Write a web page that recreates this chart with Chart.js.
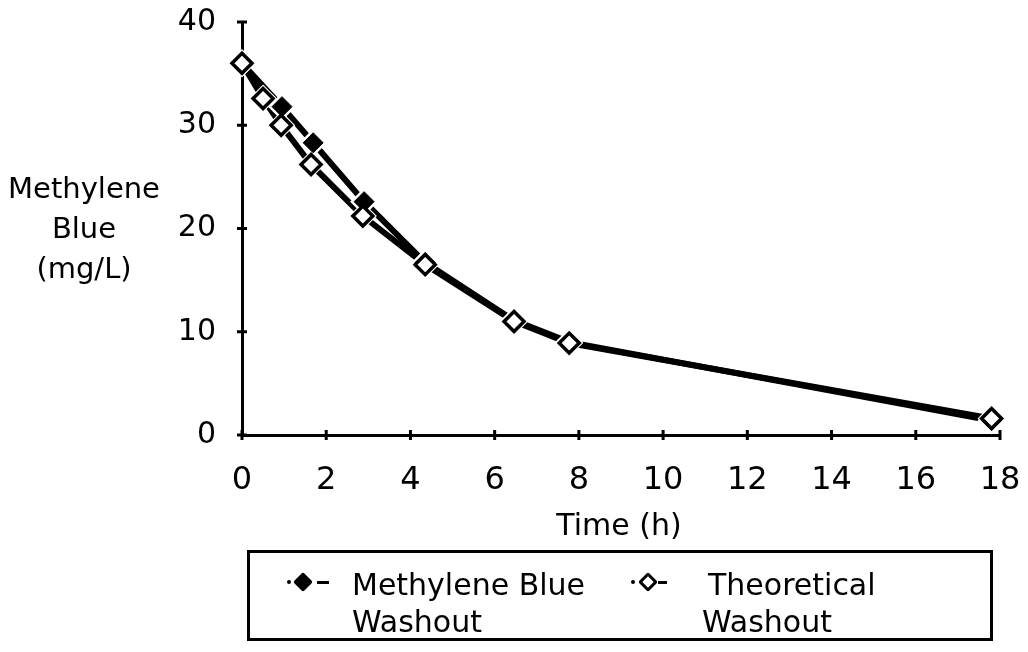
<!DOCTYPE html>
<html>
<head>
<meta charset="utf-8">
<script src="https://cdn.jsdelivr.net/npm/chart.js@4.4.1/dist/chart.umd.min.js"></script>
<style>
    body { margin: 0; background: #fff; }
    #contenedor { position: relative; width: 1028px; height: 652px; font-family: 'DejaVu Sans', sans-serif; color: #000; }
    #grafico { position: absolute; left: 0; top: 0; }
    .texto { position: absolute; white-space: nowrap; line-height: 1; }
    #tituloY { position: absolute; left: 0; top: 168px; width: 168px; text-align: center; font-size: 29px; line-height: 40px; }
    #tituloX { position: absolute; left: 519px; width: 200px; top: 510px; text-align: center; font-size: 30px; line-height: 1; }
    #leyenda { position: absolute; left: 247px; top: 550px; width: 740px; height: 85px; border: 3px solid #000; }
    .punto { position: absolute; width: 4px; height: 4px; background: #000; border-radius: 2px; }
    .guion { position: absolute; height: 3px; background: #000; }
    .rombo { position: absolute; transform: rotate(45deg); box-sizing: border-box; border-radius: 2px; }
</style>
</head>
<body>
<div id="contenedor">
    <canvas id="grafico" width="1028" height="652"></canvas>

    <div id="tituloY">Methylene<br>Blue<br>(mg/L)</div>
    <div id="tituloX">Time (h)</div>

    <div id="leyenda"></div>
    <!-- simbolos de la leyenda -->
    <div class="punto" style="left:287px; top:580px;"></div>
    <div class="rombo" style="left:296px; top:575px; width:14px; height:14px; background:#000;"></div>
    <div class="guion" style="left:317px; top:581px; width:12px;"></div>
    <div class="texto" style="left:352px; top:570px; font-size:30px;">Methylene Blue</div>
    <div class="texto" style="left:352px; top:607px; font-size:30px;">Washout</div>

    <div class="punto" style="left:631px; top:580px;"></div>
    <div class="rombo" style="left:641px; top:575px; width:14px; height:14px; background:#fff; border:3px solid #000;"></div>
    <div class="guion" style="left:658px; top:581px; width:9px;"></div>
    <div class="texto" style="left:708px; top:570px; font-size:30px;">Theoretical</div>
    <div class="texto" style="left:702px; top:607px; font-size:30px;">Washout</div>
</div>

<script>
// DATOS
const tiempoAzul = [0, 0.95, 1.69, 2.9, 4.35, 6.46, 7.77, 17.8];
const valoresAzul = [36.0, 31.8, 28.3, 22.6, 16.7, 11.1, 9.0, 1.4];
const tiempoTeorico = [0, 0.5, 0.93, 1.64, 2.87, 4.35, 6.46, 7.77, 17.8];
const valoresTeorico = [36.0, 32.6, 30.0, 26.2, 21.2, 16.5, 11.0, 8.9, 1.6];
const ticksX = [0, 2, 4, 6, 8, 10, 12, 14, 16, 18];
const ticksY = [0, 10, 20, 30, 40];

function puntos(xs, ys) {
    return xs.map((x, i) => ({ x: x, y: ys[i] }));
}

const datosAzul = puntos(tiempoAzul, valoresAzul);
const datosTeorico = puntos(tiempoTeorico, valoresTeorico);

// Marcas cortas que cruzan los ejes
const marcasEjes = {
    id: 'marcasEjes',
    beforeDatasetsDraw(chart) {
        const ctx = chart.ctx;
        const x = chart.scales.x;
        const y = chart.scales.y;
        ctx.save();
        ctx.strokeStyle = '#000';
        ctx.lineWidth = 3;
        ctx.beginPath();
        ticksX.forEach(v => {
            const px = x.getPixelForValue(v);
            ctx.moveTo(px, y.bottom - 5);
            ctx.lineTo(px, y.bottom + 5);
        });
        ticksY.forEach(v => {
            const py = y.getPixelForValue(v);
            ctx.moveTo(x.left - 5, py);
            ctx.lineTo(x.left + 5, py);
        });
        ctx.stroke();
        ctx.restore();
    }
};

const fuente = { family: "'DejaVu Sans', sans-serif" };

new Chart(document.getElementById('grafico'), {
    type: 'scatter',
    data: {
        datasets: [
            {
                // linea methylene blue
                data: datosAzul,
                showLine: true,
                borderColor: '#000',
                borderWidth: 6,
                pointRadius: 0,
                order: 5
            },
            {
                // linea teorica
                data: datosTeorico,
                showLine: true,
                borderColor: '#000',
                borderWidth: 6,
                pointRadius: 0,
                order: 4
            },
            {
                // espacio blanco alrededor de los simbolos
                data: [...datosAzul, ...datosTeorico],
                pointStyle: 'rectRot',
                pointRadius: 14,
                pointBackgroundColor: '#fff',
                pointBorderWidth: 0,
                order: 3
            },
            {
                label: 'Methylene Blue Washout',
                data: datosAzul,
                pointStyle: 'rectRot',
                pointRadius: 10,
                pointBackgroundColor: '#000',
                pointBorderColor: '#000',
                pointBorderWidth: 1,
                order: 2
            },
            {
                label: 'Theoretical Washout',
                data: datosTeorico,
                pointStyle: 'rectRot',
                pointRadius: 10,
                pointBackgroundColor: '#fff',
                pointBorderColor: '#000',
                pointBorderWidth: 3.5,
                order: 1
            }
        ]
    },
    options: {
        responsive: false,
        animation: false,
        clip: false,
        layout: { padding: { top: 22, right: 28, bottom: 0, left: 0 } },
        plugins: {
            legend: { display: false },
            tooltip: { enabled: false }
        },
        scales: {
            x: {
                type: 'linear',
                min: 0,
                max: 18,
                afterBuildTicks: s => { s.ticks = ticksX.map(v => ({ value: v })); },
                afterFit: s => {
                    s.height = 217;
                    s.paddingLeft = 0;
                    s.paddingRight = 0;
                },
                grid: { display: false, drawTicks: false },
                border: { color: '#000', width: 3 },
                ticks: { color: '#000', font: { ...fuente, size: 32 }, padding: 26, maxRotation: 0 }
            },
            y: {
                min: 0,
                max: 40,
                afterBuildTicks: s => { s.ticks = ticksY.map(v => ({ value: v })); },
                afterFit: s => {
                    s.width = 242;
                    s.paddingTop = 0;
                    s.paddingBottom = 0;
                },
                grid: { display: false, drawTicks: false },
                border: { color: '#000', width: 3 },
                ticks: { color: '#000', font: { ...fuente, size: 30 }, padding: 26 }
            }
        }
    },
    plugins: [marcasEjes]
});
</script>
</body>
</html>
